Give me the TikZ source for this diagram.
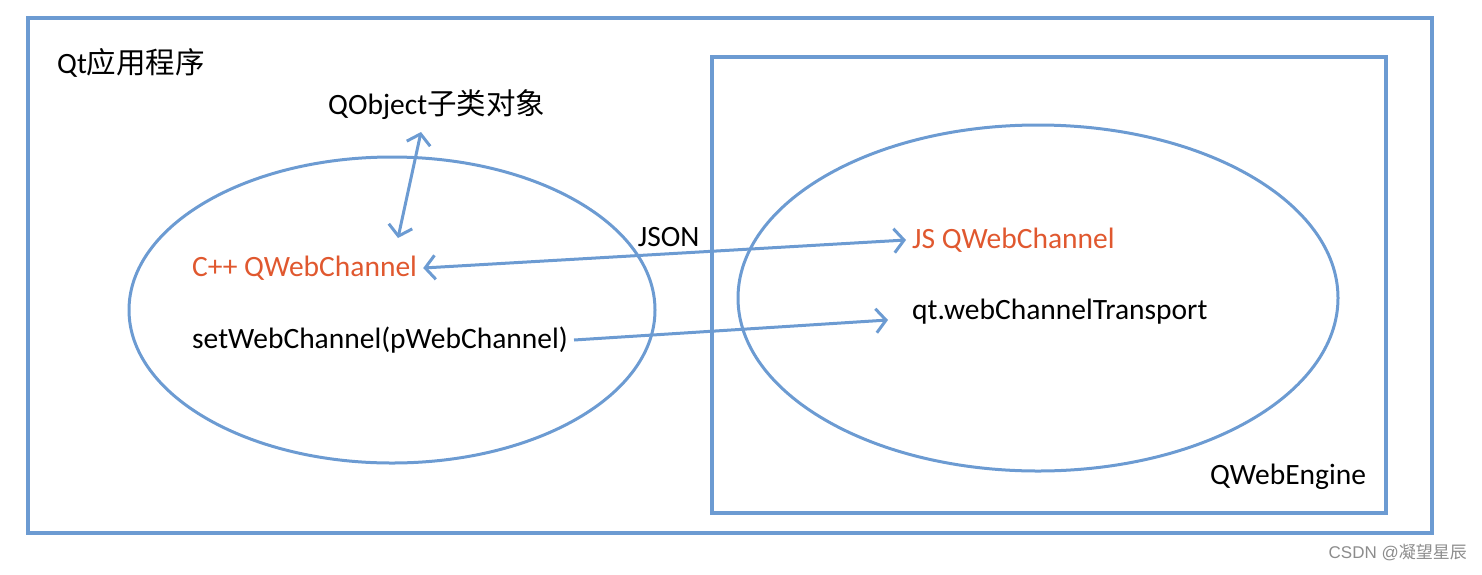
\documentclass[tikz,border=0pt]{standalone}
\usepackage{fontspec}
\setmainfont{Carlito}
\newfontfamily\cjk{Noto Sans CJK SC}
\newfontfamily\marksf{Liberation Sans}
\usetikzlibrary{arrows.meta}
\definecolor{qtblue}{RGB}{108,155,210}
\definecolor{qtorange}{RGB}{224,88,47}
\tikzset{
  frame/.style={draw=qtblue, line width=3.4pt},
  blob/.style={draw=qtblue, line width=3pt},
  link/.style={draw=qtblue, line width=3pt, arrows={-Straight Barb[length=10pt,width=24pt,line width=3pt]}},
  biglink/.style={link, arrows={Straight Barb[length=10pt,width=24pt,line width=3pt]-Straight Barb[length=10pt,width=24pt,line width=3pt]}},
  lbl/.style={inner sep=6pt, anchor=west, font=\fontsize{29.5}{34}\selectfont},
  hot/.style={lbl, text=qtorange},
}
\begin{document}
\begin{tikzpicture}[x=1pt, y=-1pt] % {{{
\useasboundingbox (0,0) rectangle (1482,574);
% frames {{{
\draw[frame] (28,18) rectangle (1432,533);
\draw[frame] (712,57) rectangle (1386,513);
% }}}
\begin{scope} % Qt side {{{
\draw[blob] (392,310) ellipse [x radius=263pt, y radius=153pt];
\node[lbl] (app) at (51,63) {Qt{\cjk 应用程序}};
\node[lbl] (qobj) at (322,105) {QObject{\cjk 子类对象}};
\node[hot] (cppch) at (186,268) {C++ QWebChannel};
\node[lbl] (setch) at (186,340) {setWebChannel(pWebChannel)};
\end{scope} % }}}
\begin{scope} % web side {{{
\draw[blob] (1038,298) ellipse [x radius=300pt, y radius=173pt];
\node[hot] (jsch) at (906,240) {JS QWebChannel};
\node[lbl] (trans) at (906,312) {qt.webChannelTransport};
\node[lbl] (engine) at (1204,477) {QWebEngine};
\end{scope} % }}}
% connectors {{{
\coordinate (oTop) at (421,132);
\coordinate (oBot) at (398,238);
\coordinate (tEnd) at (888,320);
\draw[biglink] (oTop) -- (oBot);
\draw[biglink] (cppch.east) -- node[above=2pt, pos=0.5, font=\fontsize{29.5}{34}\selectfont, xshift=4pt] (json) {JSON} (jsch.west);
\draw[link] (setch.east) -- (tEnd);
% }}}
\node[anchor=east, inner sep=0pt, text=black!45, font=\marksf\fontsize{17}{20}\selectfont] (mark) at (1467,553) {CSDN @{\cjk 凝望星辰}};
\end{tikzpicture} % }}}
\end{document}
